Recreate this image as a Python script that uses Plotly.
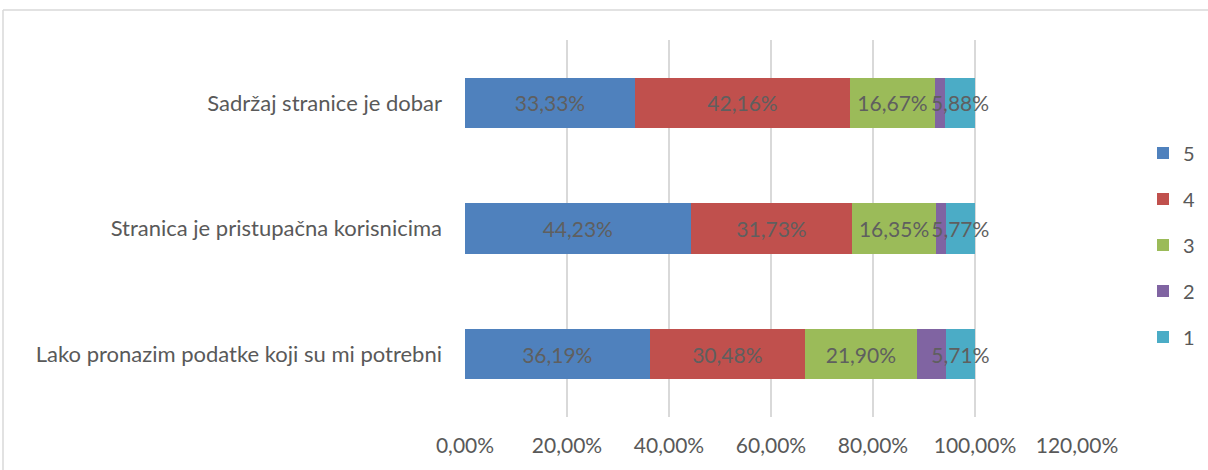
import plotly.graph_objects as go

categories = ["Sadržaj stranice je dobar",
              "Stranica je pristupačna korisnicima",
              "Lako pronazim podatke koji su mi potrebni"]
series_names = ["5", "4", "3", "2", "1"]
s5 = [33.33, 44.23, 36.19]
s4 = [42.16, 31.73, 30.48]
s3 = [16.67, 16.35, 21.90]
s2 = [1.96, 1.92, 5.71]
s1 = [5.88, 5.77, 5.71]
show_labels = [True, True, True, False, True]
x_ticks = [0, 20, 40, 60, 80, 100, 120]
x_tick_text = [f"{v:.2f}".replace(".", ",") + "%" for v in x_ticks]

colors = ["#4F81BD", "#C0504D", "#9BBB59", "#8064A2", "#4BACC6"]
FONT = "Lato"

W, H = 1208, 470
L, R, T, B = 465, 1077, 40, 417

fig = go.Figure()
for name, vals, col, lab in zip(series_names, [s5, s4, s3, s2, s1], colors, show_labels):
    txt = [(f"{v:.2f}".replace(".", ",") + "%") if lab else "" for v in vals]
    fig.add_trace(go.Bar(
        y=categories, x=vals, name=name, orientation="h",
        marker=dict(color=col, line=dict(width=0)),
        text=txt, textposition="inside", insidetextanchor="middle",
        textangle=0, constraintext="none",
        insidetextfont=dict(family=FONT, size=21, color="#5f5f5f"),
        legendgroup=name, hoverinfo="skip", cliponaxis=False,
    ))

fig.update_layout(
    width=W, height=H, barmode="stack", bargap=0.6,
    paper_bgcolor="white", plot_bgcolor="white",
    margin=dict(l=L, r=W - R, t=T, b=H - B, pad=0, autoexpand=False),
    font=dict(family=FONT, size=21, color="#595959"),
    xaxis=dict(range=[0, 120], tickvals=x_ticks, ticktext=x_tick_text,
               showgrid=True, gridcolor="#D9D9D9", gridwidth=1.5, zeroline=False,
               showline=False, ticks="", ticklabelstandoff=14, automargin=False,
               tickfont=dict(family=FONT, size=21, color="#595959")),
    yaxis=dict(autorange="reversed", showgrid=False, zeroline=False, showline=False,
               ticks="", ticklabelstandoff=22, automargin=False,
               tickfont=dict(family=FONT, size=22, color="#595959")),
    legend=dict(xref="container", x=1143 / W, xanchor="left",
                yref="container", y=1 - 245 / H, yanchor="middle",
                traceorder="grouped", tracegroupgap=17,
                font=dict(family=FONT, size=20, color="#595959"),
                itemwidth=30, bgcolor="rgba(0,0,0,0)"),
    showlegend=True,
)

# chart border (top and left edges visible)
fig.add_shape(type="line", xref="paper", yref="paper",
              x0=(3 - L) / (R - L), x1=(W + 5 - L) / (R - L),
              y0=(B - 10) / (B - T), y1=(B - 10) / (B - T),
              line=dict(color="#D9D9D9", width=1.5))
fig.add_shape(type="line", xref="paper", yref="paper",
              x0=(3 - L) / (R - L), x1=(3 - L) / (R - L),
              y0=(B - 10) / (B - T), y1=(B - H - 5) / (B - T),
              line=dict(color="#D9D9D9", width=1.5))

fig.write_html("out.html", config={"displayModeBar": False},
               post_script="document.body.style.margin='0px';document.body.style.overflow='hidden';")
